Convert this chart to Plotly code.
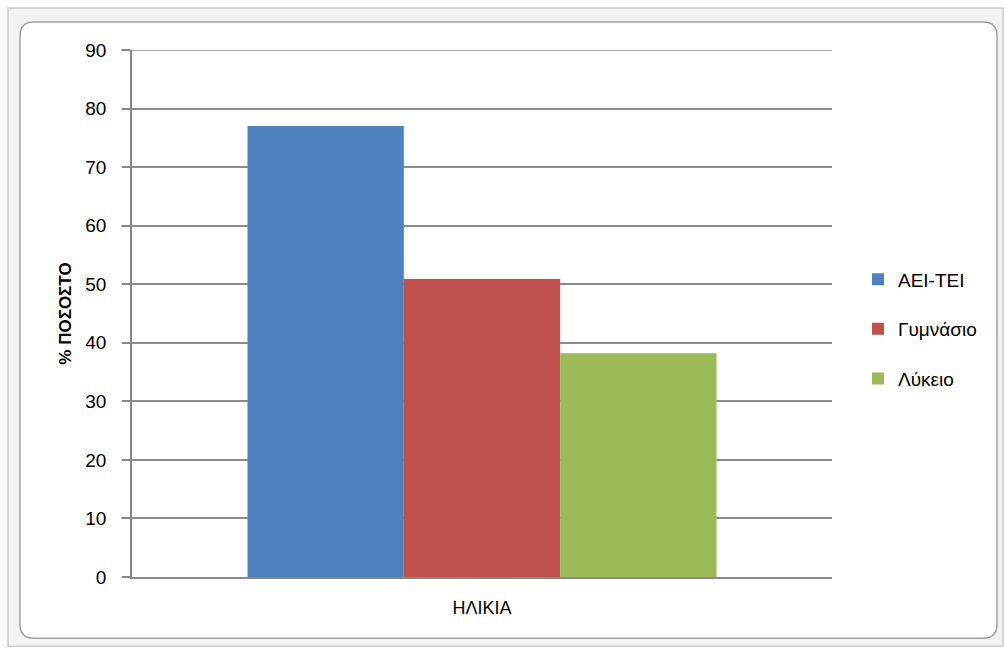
import plotly.graph_objects as go

categories = ["ΗΛΙΚΙΑ"]
series_names = ["ΑΕΙ-ΤΕΙ", "Γυμνάσιο", "Λύκειο"]
series_values = [[77.0], [50.9], [38.2]]
colors = ["#4F81BD", "#C0504D", "#9BBB59"]
y_ticks = [0, 10, 20, 30, 40, 50, 60, 70, 80, 90]

W, H = 1005, 649
L, R, T, B = 132, 832, 50, 576.7

def px(x):
    return (x - L) / (R - L)

def py(y):
    return (B - y) / (B - T)

fig = go.Figure()
for i, (name, vals) in enumerate(zip(series_names, series_values)):
    fig.add_trace(go.Bar(x=categories, y=vals, name=name, marker_color=colors[i],
                         marker_line_width=0, legendgroup=f"g{i}"))

def rounded(x0, y0, x1, y1, r):
    X0, X1 = px(x0), px(x1)
    Y0, Y1 = py(y0), py(y1)
    rx = r / (R - L)
    ry = r / (B - T)
    return (f"M {X0+rx},{Y0} L {X1-rx},{Y0} Q {X1},{Y0} {X1},{Y0-ry} "
            f"L {X1},{Y1+ry} Q {X1},{Y1} {X1-rx},{Y1} L {X0+rx},{Y1} "
            f"Q {X0},{Y1} {X0},{Y1+ry} L {X0},{Y0-ry} Q {X0},{Y0} {X0+rx},{Y0} Z")

shapes = [
    dict(type="rect", xref="paper", yref="paper", x0=px(8), x1=px(1003), y0=py(8), y1=py(646),
         fillcolor="#f2f2f2", line=dict(color="#cccccc", width=1.5), layer="below"),
    dict(type="path", xref="paper", yref="paper", path=rounded(20, 22, 997, 638, 14),
         fillcolor="white", line=dict(color="#a0a0a0", width=1.5), layer="below"),
    dict(type="line", xref="paper", yref="y", x0=0, x1=1, y0=y_ticks[-1], y1=y_ticks[-1],
         line=dict(color="#8c8c8c", width=1.5), layer="below"),
]

fig.update_layout(
    width=W, height=H,
    margin=dict(l=L, r=W - R, t=T, b=H - B),
    paper_bgcolor="white",
    plot_bgcolor="rgba(0,0,0,0)",
    bargap=0.33, bargroupgap=0,
    font=dict(family="Liberation Sans, Arial", size=19, color="#000000"),
    shapes=shapes,
    showlegend=True,
    legend=dict(x=px(858), y=0.47, xanchor="left", yanchor="middle",
                font=dict(size=19), tracegroupgap=22, bgcolor="rgba(0,0,0,0)"),
    xaxis=dict(showgrid=False, showline=True, linecolor="#888888", linewidth=1.5,
               ticks="", ticklabelstandoff=14, tickfont=dict(size=18)),
    yaxis=dict(range=[0, 90], tickvals=y_ticks, showgrid=True, gridcolor="#8c8c8c",
               gridwidth=1.5, showline=True, linecolor="#888888", linewidth=1.5,
               ticks="outside", ticklen=8, tickcolor="#888888", tickwidth=1.5,
               ticklabelstandoff=12,
               tickfont=dict(size=19), zeroline=False,
               title=dict(text="<b>% ΠΟΣΟΣΤΟ</b>", font=dict(size=17), standoff=9)),
)

fig.write_html("out.html")
